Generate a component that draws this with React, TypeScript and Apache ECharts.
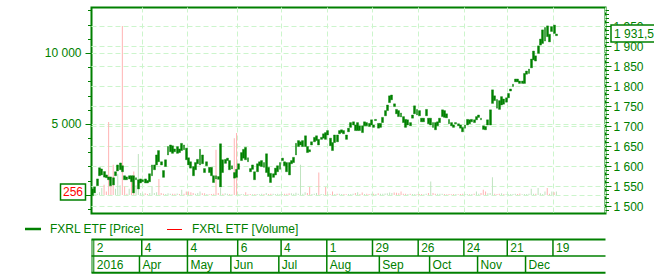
import React, { useEffect, useRef } from 'react';
import * as echarts from 'echarts';

// ---- calendar (trading days) ----
const START_DATE = '2016-03-02';
const AXIS_DAYS = 225;
const HOLIDAYS = ['2016-03-08', '2016-05-02', '2016-05-03', '2016-05-09', '2016-06-13', '2016-11-04', '2017-01-02'];

// ---- price (open / close) ----
const OPEN = [
  1527, 1534, 1552, 1577, 1579, 1587.5, 1579, 1574, 1574, 1572,
  1577, 1589, 1592, 1602, 1577, 1574, 1569, 1577, 1577, 1567,
  1544, 1559, 1562, 1569, 1565, 1562, 1577, 1592, 1604, 1640,
  1612, 1590, 1600, 1629, 1637, 1652, 1644, 1633, 1644, 1640,
  1654, 1646, 1622, 1612, 1600, 1592, 1607, 1604, 1629, 1595,
  1602, 1598, 1598, 1577, 1577, 1575, 1549, 1617, 1608, 1615,
  1615, 1594, 1585, 1593, 1593, 1615, 1621, 1648, 1622, 1595,
  1593, 1587, 1587, 1602, 1600, 1610, 1585, 1598, 1583, 1573,
  1579, 1587, 1593, 1615, 1612, 1610, 1610, 1607, 1610, 1629,
  1650, 1654, 1650, 1650, 1650, 1642, 1654, 1662, 1665, 1668,
  1668, 1671, 1685, 1679, 1671, 1660, 1660, 1679, 1682, 1685,
  1690, 1679, 1687, 1698, 1704, 1704, 1690, 1702, 1702, 1702,
  1710, 1708, 1704, 1704, 1715, 1708, 1698, 1710, 1727, 1740,
  1760, 1767, 1757, 1743, 1740, 1734, 1725, 1718, 1704, 1710,
  1721, 1732, 1743, 1740, 1721, 1712, 1727, 1721, 1704, 1710,
  1710, 1702, 1710, 1725, 1740, 1732, 1718, 1710, 1704, 1707,
  1707, 1704, 1698, 1696, 1704, 1717, 1712, 1717, 1717, 1723,
  1721, 1702, 1700, 1704, 1704, 1758, 1777, 1768, 1765, 1754,
  1769, 1761, 1772, 1789, 1800, 1812, 1819, 1814, 1808, 1808,
  1831, 1833, 1847, 1867, 1877, 1883, 1904, 1908, 1914, 1952,
  1931, 1938, 1954, 1927.5,
];
const CLOSE = [
  1544, 1549, 1569, 1597, 1594, 1573.5, 1572, 1567, 1552, 1554,
  1587, 1604, 1609, 1587, 1567, 1567, 1577, 1562, 1534, 1572,
  1567, 1569, 1567, 1559, 1559, 1582, 1604, 1604, 1629, 1612,
  1604, 1573, 1617, 1650, 1654, 1633, 1637, 1650, 1635, 1658,
  1642, 1617, 1604, 1596, 1577, 1610, 1618, 1643, 1607, 1585,
  1612, 1585, 1577, 1560, 1569, 1568, 1657, 1585, 1618, 1621,
  1592, 1602, 1571, 1573, 1607, 1635, 1643, 1617, 1612, 1587,
  1604, 1567, 1607, 1612, 1615, 1598, 1632, 1575, 1560, 1582,
  1596, 1602, 1610, 1621, 1602, 1587, 1579, 1615, 1623, 1658,
  1665, 1662, 1665, 1677, 1635, 1637, 1662, 1673, 1677, 1654,
  1673, 1682, 1668, 1690, 1652, 1640, 1679, 1662, 1690, 1692,
  1682, 1668, 1696, 1710, 1712, 1690, 1710, 1690, 1685, 1712,
  1702, 1700, 1717, 1698, 1718, 1696, 1708, 1723, 1740, 1754,
  1777, 1779, 1750, 1732, 1725, 1724, 1710, 1698, 1717, 1702,
  1729, 1752, 1729, 1727, 1712, 1721, 1743, 1707, 1721, 1698,
  1692, 1712, 1721, 1742, 1723, 1722, 1707, 1702, 1698, 1710,
  1702, 1696, 1687, 1704, 1718, 1707, 1718, 1710, 1725, 1729,
  1717, 1693, 1692, 1717, 1742, 1792, 1765, 1746, 1743, 1775,
  1756, 1772, 1783, 1794, 1806, 1819, 1812, 1808, 1814, 1833,
  1839, 1844, 1869, 1889, 1864, 1902, 1919, 1942, 1948, 1925,
  1912, 1950, 1933, 1931.5,
];

// ---- volume ----
const VOLUME = [
  100, 80, 100, 200, 490, 725, 250, 5160, 700, 2130,
  450, 1500, 700, 11920, 600, 100, 450, 1000, 1660, 700,
  2900, 150, 100, 120, 80, 150, 600, 150, 200, 1130,
  150, 100, 80, 120, 100, 90, 100, 110, 80, 370,
  100, 250, 250, 200, 150, 100, 150, 250, 120, 120,
  80, 60, 80, 100, 3190, 150, 500, 100, 120, 100,
  80, 60, 4010, 4370, 80, 70, 60, 190, 60, 70,
  60, 80, 70, 60, 90, 80, 150, 80, 90, 100,
  80, 90, 70, 80, 90, 100, 120, 130, 100, 160,
  100, 2130, 100, 200, 150, 560, 80, 100, 150, 1590,
  80, 60, 560, 70, 60, 250, 80, 90, 100, 80,
  70, 60, 80, 70, 90, 150, 200, 80, 180, 70,
  90, 80, 100, 90, 80, 120, 100, 90, 110, 120,
  180, 150, 180, 160, 120, 260, 100, 100, 80, 90,
  70, 80, 60, 70, 80, 60, 90, 150, 960, 150,
  100, 100, 90, 100, 80, 60, 70, 60, 80, 70,
  60, 80, 90, 70, 80, 60, 70, 90, 260, 100,
  150, 380, 260, 120, 150, 1250, 100, 80, 100, 120,
  80, 50, 60, 70, 80, 90, 70, 110, 60, 70,
  80, 90, 440, 100, 90, 490, 120, 80, 250, 490,
  100, 250, 200, 256,
];

// ---- axis ticks / labels ----
const VOL_LABELS = [5000, 10000];
const VOL_MAJOR_TICKS = [0, 5000, 10000];
const VOL_MINOR_TICKS = [-1000, 0, 1000, 2000, 3000, 4000, 5000, 6000, 7000, 8000, 9000, 10000, 11000, 12000, 13000];
const PRICE_LABELS = [1500, 1550, 1600, 1650, 1700, 1750, 1800, 1850, 1900, 1950];

// ---- date table ----
const WEEK_MARKS = ['2016-03-02', '2016-04-04', '2016-05-04', '2016-06-06', '2016-07-04', '2016-08-01', '2016-08-29', '2016-09-26', '2016-10-24', '2016-11-21', '2016-12-19'];
const MONTH_MARKS = ['2016-03-02', '2016-04-01', '2016-05-04', '2016-06-01', '2016-07-01', '2016-08-01', '2016-09-01', '2016-10-03', '2016-11-01', '2016-12-01'];
const MONTH_LABELS = ['2016', 'Apr', 'May', 'Jun', 'Jul', 'Aug', 'Sep', 'Oct', 'Nov', 'Dec'];

const SERIES_PRICE = 'FXRL ETF [Price]';
const SERIES_VOLUME = 'FXRL ETF [Volume]';

const GREEN = '#008000';
const GRID_LINE = '#ccf5cc';
const VOL_UP = '#bfe3bf';
const VOL_DOWN = '#ffb3b3';
const FONT = '"Liberation Sans", Arial, sans-serif';

function buildDays(): string[] {
  const out: string[] = [];
  const d = new Date(START_DATE + 'T00:00:00Z');
  while (out.length < AXIS_DAYS) {
    const iso = d.toISOString().slice(0, 10);
    const wd = d.getUTCDay();
    if (wd !== 0 && wd !== 6 && HOLIDAYS.indexOf(iso) < 0) out.push(iso);
    d.setUTCDate(d.getUTCDate() + 1);
  }
  return out;
}

function fmtInt(v: number): string {
  return String(Math.round(v)).replace(/\B(?=(\d{3})+(?!\d))/g, ' ');
}
function fmtPrice(v: number): string {
  const [a, b] = String(v).split('.');
  return fmtInt(Number(a)) + (b ? ',' + b : '');
}

export default function App() {
  const ref = useRef<HTMLDivElement>(null);

  useEffect(() => {
    document.body.style.margin = '0';
    if (!ref.current) return;
    const chart = echarts.init(ref.current, null, { renderer: 'svg' });
    const days = buildDays();
    const weekIdx = WEEK_MARKS.map((d) => days.indexOf(d));
    const monthIdx = MONTH_MARKS.map((d) => days.indexOf(d));
    const volMin = -1300;
    const volMax = 13225;
    const priceMin = 1482.5;
    const priceMax = 1998;
    const priceMinor: number[] = [];
    for (let v = 1490; v <= 1990; v += 10) priceMinor.push(v);

    const dashed = { color: GRID_LINE, type: [5, 3] as any, width: 1 };
    const hiddenAxisBits = { axisLine: { show: false }, axisLabel: { show: false }, splitLine: { show: false } };

    chart.setOption({
      animation: false,
      grid: { left: 91.5, right: 48.5, top: 7.5, bottom: 61.5, show: true, borderColor: GREEN, borderWidth: 2 },
      xAxis: [
        {
          type: 'category',
          data: days,
          boundaryGap: true,
          axisLine: { show: false, onZero: false },
          axisTick: { show: false },
          axisLabel: { show: false },
          splitLine: {
            show: true,
            interval: (i: number) => i > 0 && weekIdx.indexOf(i) >= 0,
            lineStyle: dashed,
          },
        },
      ],
      yAxis: [
        {
          type: 'value',
          position: 'left',
          min: volMin,
          max: volMax,
          axisLine: { show: false },
          axisTick: { show: true, length: 6, customValues: VOL_MAJOR_TICKS, lineStyle: { color: GREEN } },
          axisLabel: { customValues: VOL_LABELS, formatter: fmtInt, color: GREEN, fontSize: 12, fontFamily: FONT, margin: 10 },
          splitLine: { show: true, lineStyle: dashed },
        },
        {
          type: 'value',
          position: 'left',
          min: volMin,
          max: volMax,
          ...hiddenAxisBits,
          axisTick: { show: true, length: 3.5, customValues: VOL_MINOR_TICKS, lineStyle: { color: GREEN } },
        },
        {
          type: 'value',
          position: 'right',
          min: priceMin,
          max: priceMax,
          axisLine: { show: false },
          axisTick: { show: true, length: 6, customValues: PRICE_LABELS, lineStyle: { color: GREEN } },
          axisLabel: { customValues: PRICE_LABELS, formatter: fmtInt, color: GREEN, fontSize: 12, fontFamily: FONT, margin: 8 },
          splitLine: { show: true, lineStyle: dashed },
        },
        {
          type: 'value',
          position: 'right',
          min: priceMin,
          max: priceMax,
          ...hiddenAxisBits,
          axisTick: { show: true, length: 3.5, customValues: priceMinor, lineStyle: { color: GREEN } },
        },
      ],
      series: [
        {
          name: SERIES_VOLUME,
          type: 'bar',
          xAxisIndex: 0,
          yAxisIndex: 0,
          barWidth: 1,
          silent: true,
          data: VOLUME.map((v, i) => ({
            value: v,
            itemStyle: { color: CLOSE[i] >= OPEN[i] ? VOL_UP : VOL_DOWN },
          })),
        },
        {
          name: SERIES_PRICE,
          type: 'candlestick',
          xAxisIndex: 0,
          yAxisIndex: 2,
          barWidth: 2.4,
          silent: true,
          itemStyle: { color: GREEN, color0: GREEN, borderColor: GREEN, borderColor0: GREEN, borderWidth: 0.4 },
          data: OPEN.map((o, i) => [o, CLOSE[i], Math.min(o, CLOSE[i]), Math.max(o, CLOSE[i])]),
        },
      ],
    });

    // ---- overlays computed from the axes ----
    const c0 = chart.convertToPixel({ xAxisIndex: 0 }, 0) as number;
    const c1 = chart.convertToPixel({ xAxisIndex: 0 }, 1) as number;
    const band = c1 - c0;
    const leftEdge = (i: number) => (chart.convertToPixel({ xAxisIndex: 0 }, i) as number) - band / 2;
    const gridLeft = leftEdge(0);
    const gridRight = leftEdge(AXIS_DAYS);
    const font = '12px ' + FONT;

    const rowTop = 239.5;
    const rowMid = 256;
    const rowBot = 272.7;
    const els: any[] = [];
    const line = (x1: number, y1: number, x2: number, y2: number, w: number, color = GREEN) =>
      els.push({ type: 'line', z: 50, silent: true, shape: { x1, y1, x2, y2 }, style: { stroke: color, lineWidth: w } });
    const text = (x: number, y: number, t: string, color = GREEN) =>
      els.push({ type: 'text', z: 60, silent: true, x, y, style: { text: t, fill: color, font, verticalAlign: 'middle', align: 'left' } });

    // legend
    line(25, 229, 41, 229, 2.5);
    text(50, 228.5, SERIES_PRICE);
    line(167, 229.5, 182, 229.5, 1, '#ff0000');
    text(192, 228.5, SERIES_VOLUME);

    // date table
    line(gridLeft, rowTop, gridRight, rowTop, 2);
    line(gridLeft, rowMid, gridRight, rowMid, 1.5);
    line(gridLeft, rowBot, gridRight, rowBot, 2);
    line(gridLeft + 0.5, rowTop, gridLeft + 0.5, rowBot, 1);
    line(gridLeft + 2.3, rowTop, gridLeft + 2.3, rowBot, 1);
    weekIdx.forEach((idx, k) => {
      const x = k === 0 ? gridLeft + 2.3 : leftEdge(idx);
      if (k > 0) line(x, rowTop, x, rowMid, 1.5);
      text(x + 3, 247.8, String(Number(days[idx].slice(8, 10))));
    });
    monthIdx.forEach((idx, k) => {
      const x = k === 0 ? gridLeft + 2.3 : leftEdge(idx);
      if (k > 0) line(x, rowMid, x, rowBot, 1.5);
      text(x + 3, 264.8, MONTH_LABELS[k]);
    });

    // last price box (right axis)
    const lastClose = CLOSE[CLOSE.length - 1];
    const py = chart.convertToPixel({ yAxisIndex: 2 }, lastClose) as number;
    els.push({ type: 'rect', z: 70, silent: true, shape: { x: 611, y: py - 9, width: 60, height: 17 }, style: { fill: '#ffffff', stroke: GREEN, lineWidth: 1.5 } });
    els.push({ type: 'text', z: 71, silent: true, x: 614, y: py, style: { text: fmtPrice(lastClose), fill: GREEN, font, verticalAlign: 'middle' } });

    // last volume box (left axis)
    const lastVol = VOLUME[VOLUME.length - 1];
    const vy = chart.convertToPixel({ yAxisIndex: 0 }, lastVol) as number;
    els.push({ type: 'rect', z: 70, silent: true, shape: { x: 60.5, y: vy - 7.5, width: 25, height: 16 }, style: { fill: '#ffffff', stroke: GREEN, lineWidth: 1.5 } });
    els.push({ type: 'text', z: 71, silent: true, x: 63, y: vy + 0.5, style: { text: fmtInt(lastVol), fill: '#ff0000', font, verticalAlign: 'middle' } });

    chart.setOption({ graphic: { elements: els } });

    return () => chart.dispose();
  }, []);

  return <div ref={ref} style={{ width: 654, height: 275 }} />;
}
